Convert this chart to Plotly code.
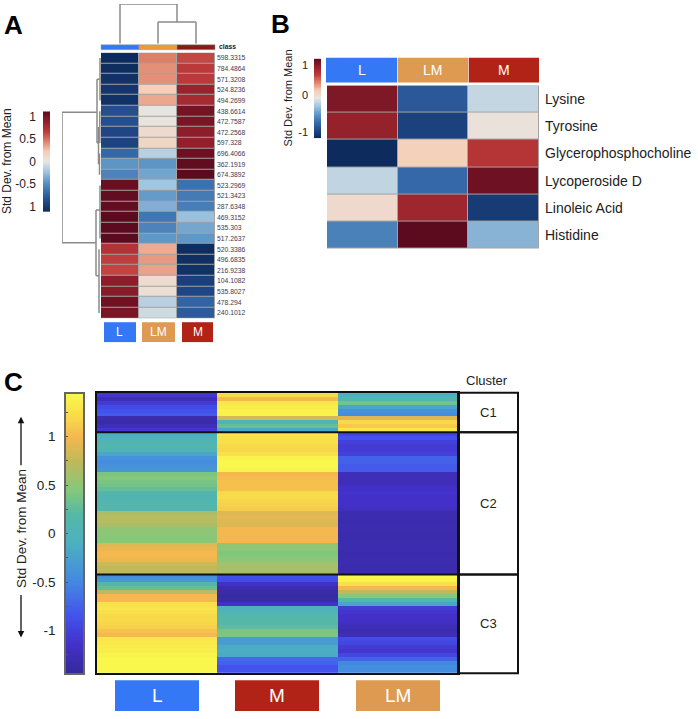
import numpy as np
import plotly.graph_objects as go

W, H = 698, 719
FONT = "Liberation Sans"

# ---------- data ----------
groups_a = ["L", "LM", "M"]
features_a = ["598.3315", "784.4864", "571.3208", "524.8236", "494.2699", "438.6614", "472.7587",
              "472.2568", "597.328", "696.4066", "362.1919", "674.3892", "523.2969", "521.3423",
              "287.6348", "469.3152", "535.303", "517.2637", "520.3386", "496.6835", "216.9238",
              "104.1082", "535.8027", "478.294", "240.1012"]
a_L = [-1.1, -1.08, -1.05, -1.02, -1.05, -.85, -.85, -.9, -.92, -.7, -.45, -.55, 1.05, 1.07, 1.07,
       1.1, 1.1, 1.1, .72, .65, .63, .9, .92, 1.02, .98]
a_LM = [.45, .4, .4, .2, .33, .02, .03, .11, .15, -.15, -.45, -.38, -.22, -.42, -.33, -.62, -.55,
        -.44, .32, .37, .35, .1, .07, -.15, -.08]
a_M = [.62, .67, .67, .85, .78, 1.0, .98, .9, .88, 1.03, 1.08, 1.1, -.65, -.6, -.58, -.25, -.37, -.44,
       -1.08, -1.07, -1.05, -.95, -.9, -.73, -.78]

groups_b = ["L", "LM", "M"]
features_b = ["Lysine", "Tyrosine", "Glycerophosphocholine", "Lycoperoside D", "Linoleic Acid", "Histidine"]
b_L = [1.03, .93, -1.18, -.13, .12, -.6]
b_LM = [-.85, -1.0, .2, -.75, .88, 1.2]
b_M = [-.12, .05, .75, 1.1, -1.05, -.33]

groups_c = ["L", "M", "LM"]
c1_L = [-1.1, -1.25, -1.05, -.9, -.85, -.8, -1.3, -1.35, -1.25, -1.1]
c1_M = [1.2, 1.0, 1.3, 1.35, 1.38, 1.4, .85, .05, .3, -.2]
c1_LM = [-.1, .1, .35, -.2, -.4, -.45, .9, 1.2, 1.1, 1.3]
c2_L = [-.1, -.05, .05, .1, .05, -.2, -.4, -.45, -.4, -.35, .4, .45, .4, .35, .3, .1, .05, .1, .1, .15,
        .65, .7, .7, .65, .5, .5, .45, .5, .9, .95, 1.0, 1.0, .95, .8, .75, .75]
c2_M = [1.3, 1.25, 1.25, 1.2, 1.18, 1.25, 1.4, 1.42, 1.42, 1.4, 1.0, 1.02, 1.05, 1.05, 1.05, 1.2, 1.22,
        1.18, 1.15, 1.12, .9, .92, .9, .88, 1.0, 1.0, .98, 1.0, .5, .5, .42, .45, .5, .6, .62, .65]
c2_LM = [-.95, -.85, -1.0, -1.05, -1.05, -1.0, -.75, -.75, -.8, -.8, -1.25, -1.25, -1.25, -1.2, -1.15,
         -1.12, -1.15, -1.15, -1.15, -1.2, -1.3, -1.3, -1.32, -1.3, -1.3, -1.32, -1.32, -1.3, -1.3, -1.3,
         -1.32, -1.32, -1.3, -1.3, -1.32, -1.32]
c3_L = [-.45, -.35, .1, .3, .7, 1.0, 1.0, 1.25, 1.28, 1.25, 1.2, 1.2, 1.18, 1.15, 1.05, 1.0, 1.3, 1.32,
        1.35, 1.35, 1.4, 1.42, 1.42, 1.42, 1.42]
c3_M = [-.85, -.9, -1.15, -1.3, -1.35, -1.4, -1.35, -1.15, -.05, 0, .15, .2, .15, .25, .4, .42, -.3, -.3,
        -.15, -.12, -.15, -.7, -.75, -.85, -.85]
c3_LM = [1.42, 1.38, 1.25, 1.0, .75, .45, .2, -.2, -1.05, -1.1, -1.15, -1.15, -1.2, -1.25, -1.3, -1.25,
         -.9, -.95, -1.05, -1.1, -.95, -.75, -.5, -.45, -.45]
clusters_c = ["C1", "C2", "C3"]

# dendrogram segments: (height_start, pos_start, height_end, pos_end)
dendro_top = [(0, 0, 40, 0), (40, 0, 40, 1.5), (22, 1.5, 40, 1.5), (0, 1, 22, 1), (22, 1, 22, 2), (0, 2, 22, 2)]
dendro_left = [(39, 5.1, 39, 17.4), (39, 5.1, 4, 5.1), (39, 17.4, 5, 17.4),
               (4, 2, 4, 8), (4, 2, 1, 2), (1, 0, 1, 4), (4, 8, 2.5, 8), (2.5, 6.5, 2.5, 10),
               (1.2, 5, 1.2, 8), (1.5, 9, 1.5, 11),
               (5, 14.3, 5, 20.5), (5, 14.3, 1, 14.3), (1, 12, 1, 17), (5, 20.5, 2, 20.5), (2, 18, 2, 24)]

# colour-bar tick labels
cbar_a_vals, cbar_a_text = [1, .5, 0, -.5, -1], ["1", "0.5", "0", "-0.5", "1"]
cbar_b_vals, cbar_b_text = [1, .1, -1], ["1", "0", "-1"]
cbar_c_vals, cbar_c_text = [1, .5, 0, -.5, -1], ["1", "0.5", "0", "-0.5", "-1"]

BLUE, ORANGE, RED = "#3478f6", "#dd9a50", "#b22317"
RDBU = [[0, "#0d2b5c"], [.1, "#20498a"], [.2, "#3a6fae"], [.3, "#5f97c6"], [.4, "#a3c6df"], [.5, "#e6e6e4"],
        [.6, "#f6cdb4"], [.7, "#e0826a"], [.8, "#bd3a3a"], [.9, "#921f2a"], [1, "#5c0a1e"]]
P_MIN, P_MAX = -1.44, 1.44
_par = [(-1.44, "#352a9a"), (-1.15, "#4330c8"), (-.85, "#4352ec"), (-.5, "#4488e2"), (-.1, "#4cb0c0"),
        (.2, "#55b8a5"), (.45, "#85c87a"), (.75, "#c0b95a"), (1.0, "#f5b84e"), (1.2, "#f8d94a"), (1.44, "#f9f94c")]
PARULA = [[(v - P_MIN) / (P_MAX - P_MIN), c] for v, c in _par]


# ---------- pixel helpers ----------
def dx(a, b):
    return [a / W, b / W]


def dy(top, bottom):
    return [1 - bottom / H, 1 - top / H]


def px(x):
    return x / W


def py(y):
    return 1 - y / H


shapes, annotations = [], []


def rect(x0, y0, x1, y1, fill="rgba(0,0,0,0)", line=None, lw=1, layer="above"):
    shapes.append(dict(type="rect", xref="paper", yref="paper", x0=px(x0), x1=px(x1), y0=py(y0), y1=py(y1),
                       fillcolor=fill, line=dict(color=line or fill, width=lw if line else 0), layer=layer))


def text(x, y, s, size=12, color="#222", anchor="center", angle=0, bold=False):
    annotations.append(dict(xref="paper", yref="paper", x=px(x), y=py(y), text=f"<b>{s}</b>" if bold else s,
                            showarrow=False, xanchor=anchor, yanchor="middle", textangle=angle,
                            font=dict(size=size, color=color, family=FONT)))


def button(x0, y0, x1, y1, fill, s, size):
    rect(x0, y0, x1, y1, fill=fill)
    text((x0 + x1) / 2, (y0 + y1) / 2, s, size=size, color="white")


def seg_xy(segs, flip=False):
    xs, ys = [], []
    for h0, p0, h1, p1 in segs:
        a, b = ((h0, h1), (p0, p1)) if flip else ((p0, p1), (h0, h1))
        xs += [a[0], a[1], None]
        ys += [b[0], b[1], None]
    return xs, ys


hidden = dict(visible=False, fixedrange=True)
fig = go.Figure()
layout = {}

# ---------- panel A ----------
za = np.array([a_L, a_LM, a_M]).T
rect(101, 51, 215, 318, fill="#a3a3a3", layer="below")
fig.add_trace(go.Heatmap(z=za, x=groups_a, y=list(range(len(features_a))), colorscale=RDBU, zmin=-1.1, zmax=1.1,
                         showscale=False, xgap=1, ygap=1, xaxis="x", yaxis="y"))
layout["xaxis"] = dict(domain=dx(101, 215), visible=False, fixedrange=True)
layout["yaxis"] = dict(domain=dy(51, 318), range=[len(features_a) - .5, -.5], side="right", anchor="x",
                       tickmode="array", tickvals=list(range(len(features_a))), ticktext=features_a,
                       tickfont=dict(size=6.8, color="#3a3a55", family=FONT), ticks="", showgrid=False,
                       zeroline=False, showline=False, ticklabelstandoff=1, fixedrange=True)
xs, ys = seg_xy(dendro_top)
fig.add_trace(go.Scatter(x=xs, y=ys, mode="lines", line=dict(color="#8a8a8a", width=1.5), xaxis="x2", yaxis="y2",
                         showlegend=False, hoverinfo="skip"))
layout["xaxis2"] = dict(domain=dx(101, 215), range=[-.5, 2.5], anchor="y2", **hidden)
layout["yaxis2"] = dict(domain=dy(2, 42), range=[0, 40], anchor="x2", **hidden)
xs, ys = seg_xy(dendro_left, flip=True)
fig.add_trace(go.Scatter(x=xs, y=ys, mode="lines", line=dict(color="#8a8a8a", width=1.5), xaxis="x3", yaxis="y3",
                         showlegend=False, hoverinfo="skip"))
layout["xaxis3"] = dict(domain=dx(62, 101), range=[39, 0], anchor="y3", **hidden)
layout["yaxis3"] = dict(domain=dy(51, 318), range=[len(features_a) - .5, -.5], anchor="x3", **hidden)

levels_a = np.linspace(-1.11, 1.11, 101)
fig.add_trace(go.Heatmap(z=levels_a.reshape(-1, 1), x=[0], y=levels_a, colorscale=RDBU, zmin=-1.11, zmax=1.11,
                         showscale=False, xaxis="x4", yaxis="y4", hoverinfo="skip"))
layout["xaxis4"] = dict(domain=dx(43, 50), anchor="y4", **hidden)
layout["yaxis4"] = dict(domain=dy(110, 211), range=[-1.11, 1.11], anchor="x4", tickmode="array",
                        tickvals=cbar_a_vals, ticktext=cbar_a_text, ticks="", showgrid=False, zeroline=False,
                        showline=False, tickfont=dict(size=12, color="#222", family=FONT), ticklabelstandoff=6,
                        fixedrange=True)
text(7, 160, "Std Dev. from Mean", size=12, angle=-90)
text(217, 45, "class", size=6.8, anchor="left", bold=True)
for i, (g, c) in enumerate(zip(groups_a, (BLUE, "#ef9a2e", "#8a1a1a"))):
    rect(101 + 38 * i, 43, 139 + 38 * i, 48, fill=c, line="#9a9a9a", lw=.5)
for (x0, x1), g, c in zip(((104, 136), (142, 175), (182, 213)), groups_a, (BLUE, ORANGE, RED)):
    button(x0, 322, x1, 342, c, g, 12)

# ---------- panel B ----------
zb = np.array([b_L, b_LM, b_M]).T
rect(327, 84, 539, 248, fill="#a3a3a3", layer="below")
fig.add_trace(go.Heatmap(z=zb, x=groups_b, y=list(range(len(features_b))), colorscale=RDBU, zmin=-1.18, zmax=1.18,
                         showscale=False, xgap=1, ygap=1, xaxis="x5", yaxis="y5"))
layout["xaxis5"] = dict(domain=dx(327, 539), anchor="y5", visible=False, fixedrange=True)
layout["yaxis5"] = dict(domain=dy(84, 248), range=[len(features_b) - .5, -.5], side="right", anchor="x5",
                        tickmode="array", tickvals=list(range(len(features_b))), ticktext=features_b,
                        tickfont=dict(size=14, color="#222", family=FONT), ticks="", showgrid=False,
                        zeroline=False, showline=False, ticklabelstandoff=5, fixedrange=True)
levels_b = np.linspace(-1.18, 1.18, 101)
fig.add_trace(go.Heatmap(z=levels_b.reshape(-1, 1), x=[0], y=levels_b, colorscale=RDBU, zmin=-1.18, zmax=1.18,
                         showscale=False, xaxis="x6", yaxis="y6", hoverinfo="skip"))
layout["xaxis6"] = dict(domain=dx(314, 321), anchor="y6", **hidden)
layout["yaxis6"] = dict(domain=dy(57, 137), range=[-1.18, 1.18], anchor="x6", tickmode="array",
                        tickvals=cbar_b_vals, ticktext=cbar_b_text, ticks="", showgrid=False, zeroline=False,
                        showline=False, tickfont=dict(size=11, color="#222", family=FONT), ticklabelstandoff=5,
                        fixedrange=True)
text(288, 97, "Std Dev. from Mean", size=11, angle=-90)
for (x0, x1), g, c in zip(((326, 397), (397.7, 468), (468.7, 539)), groups_b, (BLUE, ORANGE, RED)):
    button(x0, 56, x1, 81, c, g, 14)

# ---------- panel C ----------
zc = np.array([c1_L + c2_L + c3_L, c1_M + c2_M + c3_M, c1_LM + c2_LM + c3_LM]).T
n1, n2, n3 = len(c1_L), len(c2_L), len(c3_L)
nc = n1 + n2 + n3
fig.add_trace(go.Heatmap(z=zc, x=groups_c, y=list(range(nc)), colorscale=PARULA, zmin=P_MIN, zmax=P_MAX,
                         showscale=False, xaxis="x7", yaxis="y7"))
layout["xaxis7"] = dict(domain=dx(97, 458), anchor="y7", visible=True, showticklabels=False, ticks="",
                        showline=True, mirror=True, linecolor="#111", linewidth=2, showgrid=False, zeroline=False,
                        fixedrange=True)
layout["yaxis7"] = dict(domain=dy(393, 675), range=[nc - .5, -.5], anchor="x7", showticklabels=False, ticks="",
                        showline=True, mirror=True, linecolor="#111", linewidth=2, showgrid=False, zeroline=False,
                        fixedrange=True)
for r in (n1 - .5, n1 + n2 - .5):
    shapes.append(dict(type="line", xref="x7 domain", yref="y7", x0=0, x1=1, y0=r, y1=r,
                       line=dict(color="#111", width=2), layer="above"))
# cluster table, its row edges taken from the same row counts
edge = lambda r: 393 + (675 - 393) * r / nc
for name, r0, r1 in zip(clusters_c, (0, n1, n1 + n2), (n1, n1 + n2, nc)):
    rect(458, edge(r0), 518, edge(r1), line="#111", lw=2)
    text(488, (edge(r0) + edge(r1)) / 2, name, size=13)
text(487, 381, "Cluster", size=13)

levels_c = np.linspace(P_MIN, P_MAX, 121)
fig.add_trace(go.Heatmap(z=levels_c.reshape(-1, 1), x=[0], y=levels_c, colorscale=PARULA, zmin=P_MIN, zmax=P_MAX,
                         showscale=False, xaxis="x8", yaxis="y8", hoverinfo="skip"))
layout["xaxis8"] = dict(domain=dx(66, 83), anchor="y8", showticklabels=False, ticks="", showline=True, mirror=True,
                        linecolor="#666", linewidth=1.5, showgrid=False, zeroline=False, fixedrange=True)
layout["yaxis8"] = dict(domain=dy(394, 675), range=[P_MIN, P_MAX], anchor="x8", tickmode="array",
                        tickvals=cbar_c_vals, ticktext=cbar_c_text, ticks="inside", ticklen=2, tickcolor="#555",
                        minor=dict(tickvals=[1.25, .75, .25, -.25, -.75, -1.25], ticks="inside", ticklen=2,
                                   tickcolor="#555"),
                        showline=True, mirror=True, linecolor="#666", linewidth=1.5, showgrid=False, zeroline=False,
                        tickfont=dict(size=13.5, color="#222", family=FONT), ticklabelstandoff=6, fixedrange=True)
text(21, 530, "Std Dev. from Mean", size=13.5, angle=-90)
for tip, tail in ((417, 467), (639, 595)):
    annotations.append(dict(xref="paper", yref="paper", x=px(21), y=py(tip), ax=0, ay=tail - tip, text="",
                            showarrow=True, arrowhead=2, arrowsize=1, arrowwidth=1.3, arrowcolor="#111"))
for (x0, x1), g, c in zip(((115, 199), (235, 319), (356, 440)), groups_c, (BLUE, RED, ORANGE)):
    button(x0, 682, x1, 713, c, g, 19)

# ---------- panel letters ----------
text(2, 23, "A", size=26, color="#000", anchor="left", bold=True)
text(269, 22, "B", size=26, color="#000", anchor="left", bold=True)
text(2, 382, "C", size=26, color="#000", anchor="left", bold=True)

fig.update_layout(width=W, height=H, margin=dict(l=0, r=0, t=0, b=0), paper_bgcolor="white",
                  plot_bgcolor="rgba(0,0,0,0)", showlegend=False, shapes=shapes, annotations=annotations,
                  font=dict(family=FONT), **layout)
fig.write_html("out.html", config={"displayModeBar": False},
               post_script="document.body.style.margin='0';document.body.style.overflow='hidden';")
